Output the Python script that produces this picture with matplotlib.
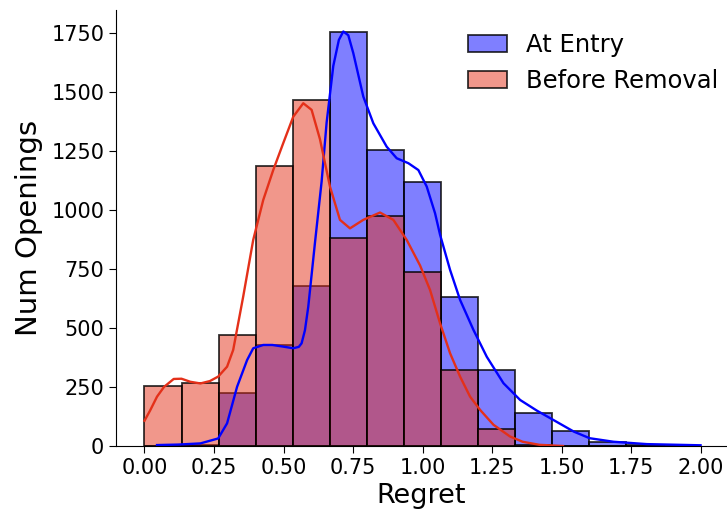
import numpy as np
from matplotlib import pyplot as plt
from matplotlib.colors import to_rgba

# histogram counts (15 common bins over 0..2)
bin_edges = np.linspace(0, 2, 16)
entry_counts = [0, 3, 225, 428, 679, 1754, 1253, 1120, 630, 321, 141, 62, 15, 4, 1]
removal_counts = [255, 267, 472, 1188, 1467, 883, 976, 737, 321, 72, 3, 0, 0, 0, 0]

# kde curves (scaled to counts)
entry_kde_x = [0.045, 0.12, 0.201, 0.265, 0.297, 0.333, 0.369, 0.391, 0.427, 0.46, 0.499, 0.535,
               0.555, 0.565, 0.577, 0.589, 0.613, 0.637, 0.655, 0.679, 0.699, 0.715, 0.733, 0.751,
               0.787, 0.823, 0.871, 0.907, 0.949, 0.985, 1.015, 1.045, 1.063, 1.099, 1.135, 1.183,
               1.231, 1.291, 1.351, 1.411, 1.468, 1.544, 1.601, 1.687, 1.807, 2.0]
entry_kde_y = [4, 6, 11, 32, 96, 251, 364, 414, 428, 428, 421, 414,
               420, 435, 490, 590, 860, 1120, 1370, 1610, 1720, 1756, 1740, 1664,
               1480, 1367, 1268, 1219, 1198, 1169, 1099, 986, 895, 746, 619, 492,
               378, 266, 195, 150, 112, 61, 33, 18, 8, 3]
removal_kde_x = [0, 0.02, 0.045, 0.07, 0.105, 0.133, 0.165, 0.201, 0.235, 0.265, 0.297, 0.319,
                 0.355, 0.391, 0.427, 0.463, 0.499, 0.535, 0.571, 0.601, 0.631, 0.667, 0.703,
                 0.739, 0.787, 0.847, 0.895, 0.943, 0.991, 1.027, 1.063, 1.099, 1.135, 1.171,
                 1.207, 1.255, 1.315, 1.36, 1.42, 1.505]
removal_kde_y = [107, 150, 209, 250, 284, 285, 272, 265, 275, 294, 336, 407,
                 633, 873, 1042, 1169, 1283, 1395, 1452, 1424, 1300, 1099, 958,
                 922, 958, 989, 958, 873, 765, 661, 520, 393, 294, 209,
                 153, 90, 40, 18, 5, 0]

labels = ["At Entry", "Before Removal"]
blue = "#0000ff"
red = "#e43019"

fig = plt.figure(figsize=(7.27, 5.11), dpi=100)
ax = fig.add_axes([116 / 727, 65 / 511, 611 / 727, 436 / 511])

widths = np.diff(bin_edges)
ax.bar(bin_edges[:-1], entry_counts, width=widths, align="edge", facecolor=to_rgba(blue, 0.5),
       edgecolor=to_rgba("black", 0.8), linewidth=1.3, label=labels[0])
ax.bar(bin_edges[:-1], removal_counts, width=widths, align="edge", facecolor=to_rgba(red, 0.5),
       edgecolor=to_rgba("black", 0.8), linewidth=1.3, label=labels[1])
ax.plot(entry_kde_x, entry_kde_y, color=blue, linewidth=1.7)
ax.plot(removal_kde_x, removal_kde_y, color=red, linewidth=1.7)

ax.set_xlim(-0.1025, 2.095)
ax.set_ylim(0, 1847)
ax.set_xticks(np.arange(0, 2.01, 0.25))
ax.set_yticks(np.arange(0, 1751, 250))
ax.tick_params(labelsize=15, length=5)
ax.set_xlabel("Regret", fontsize=19.5)
ax.set_ylabel("Num Openings", fontsize=21, labelpad=6)
ax.spines["top"].set_visible(False)
ax.spines["right"].set_visible(False)

ax.legend(loc="upper left", frameon=False, fontsize=17.5, handlelength=1.6, handletextpad=0.8,
          labelspacing=0.5, bbox_to_anchor=(446 / 727, 1 - 11 / 511),
          bbox_transform=fig.transFigure)

plt.savefig("out.png", dpi=100)
